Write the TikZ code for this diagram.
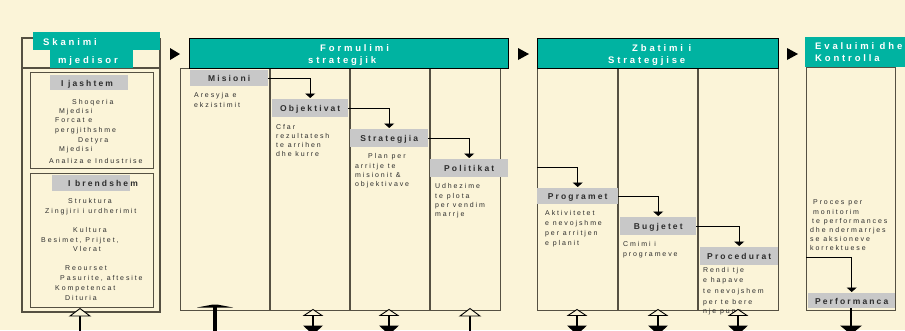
\documentclass[tikz,border=0pt]{standalone}
\usepackage{fontspec}
\setmainfont{Liberation Sans}
\newfontfamily\bodyfont[LetterSpace=27]{Liberation Sans}
\newfontfamily\lblfont[LetterSpace=25]{Liberation Sans}
\newfontfamily\hdrfont[LetterSpace=30]{Liberation Sans}
\usetikzlibrary{arrows.meta}
\definecolor{bgc}{RGB}{251,244,216}
\definecolor{tealc}{RGB}{0,179,161}
\definecolor{lblc}{RGB}{200,200,200}
\definecolor{linec}{RGB}{85,80,66}
\definecolor{txtc}{RGB}{45,45,45}
\begin{document}
\begin{tikzpicture}[x=1pt,y=-1pt,
  hdr/.style={fill=tealc, draw=black, line width=0.8pt, inner sep=0pt, anchor=north west},
  tealbox/.style={fill=tealc, inner sep=0pt, anchor=north west},
  hdrtxt/.style={text=white, font=\hdrfont\fontsize{9.5}{11}\selectfont\bfseries, inner sep=0pt, anchor=base west},
  colbox/.style={draw=linec, line width=1.3pt, inner sep=0pt, anchor=north west},
  lbl/.style={fill=lblc, inner sep=0pt, anchor=north west, text=txtc,
     font=\lblfont\fontsize{8.5}{10}\selectfont\bfseries, text height=7pt, text depth=0pt},
  txt/.style={text=txtc, font=\bodyfont\fontsize{7}{8}\selectfont, inner sep=0pt, anchor=base west},
  conn/.style={draw=black, line width=0.9pt, -{Triangle[width=10pt,length=4.5pt]}, shorten >=1pt},
  divl/.style={draw=linec, line width=1.3pt},
  dblarr/.pic={
    \draw[line width=2.4pt] (0,314) -- (0,327);
    \fill (-10,325.5) -- (10,325.5) -- (3,332) -- (-3,332) -- cycle;
    \draw[line width=0.9pt, fill=bgc, line join=miter] (-9,315.5) -- (0,309.5) -- (9,315.5) -- cycle;
  },
  hollowup/.pic={
    \draw[line width=1.6pt] (0,315) -- (0,332);
    \draw[line width=0.9pt, fill=bgc] (-10,316) -- (0,308.5) -- (10,316) -- cycle;
  }
]
\useasboundingbox (0,0) rectangle (905,330);
\clip (0,0) rectangle (905,330);
\fill[bgc] (0,0) rectangle (905,330);

% ---------- Skanimi mjedisor ----------
\draw[divl] (33,38) -- (22,38) -- (22,312) -- (160,312) -- (160,38);
\draw[divl] (22,68) -- (160,68);
\node[tealbox, minimum width=127pt, minimum height=18pt] (skh) at (33,32) {};
\node[tealbox, minimum width=83pt, minimum height=18pt] (mjh) at (50,50) {};
\node[hdrtxt] (skt) at (43,45) {Skanimi};
\node[hdrtxt] (mjt) at (58,63) {mjedisor};
\node[colbox, minimum width=123pt, minimum height=96pt] (jbox) at (30,72) {};
\node[colbox, minimum width=123pt, minimum height=134pt] (bbox) at (30,173) {};
\node[lbl, minimum width=78pt, minimum height=15pt] (jl) at (50,75) {\makebox[78pt][l]{\hspace{11pt}I jashtem}};
\node[lbl, minimum width=78pt, minimum height=16pt] (bl) at (52,175) {\makebox[78pt][l]{\hspace{16pt}I brendshem}};
\node[txt] (j1) at (72,104.5) {Shoqeria};
\node[txt] (j2) at (59,113.5) {Mjedisi};
\node[txt] (j3) at (55,122.5) {Forcat e};
\node[txt] (j4) at (55,132.5) {pergjithshme};
\node[txt] (j5) at (78,142.5) {Detyra};
\node[txt] (j6) at (59,151) {Mjedisi};
\node[txt] (j7) at (49,163) {Analiza e Industrise};
\node[txt] (b1) at (68,203.5) {Struktura};
\node[txt] (b2) at (45,213.5) {Zingjiri i urdherimit};
\node[txt] (b3) at (73,232.5) {Kultura};
\node[txt] (b4) at (41,242.5) {Besimet, Prijtet,};
\node[txt] (b5) at (73,251.5) {Vlerat};
\node[txt] (b6) at (65,270.5) {Reourset};
\node[txt] (b7) at (60,280.5) {Pasurite, aftesite};
\node[txt] (b8) at (55,290.5) {Kompetencat};
\node[txt] (b9) at (65,300.5) {Dituria};

% ---------- arrows between stages ----------
\fill (170,48) -- (180,54) -- (170,60) -- cycle;
\fill (518,48) -- (529,54) -- (518,60) -- cycle;
\fill (787,48) -- (798,54) -- (787,60) -- cycle;

% ---------- Formulimi strategjik ----------
\node[colbox, minimum width=320pt, minimum height=242pt] (fbox) at (180,68) {};
\draw[divl] (270,68) -- (270,310);
\draw[divl] (350,68) -- (350,310);
\draw[divl] (430,68) -- (430,310);
\node[hdr, minimum width=319pt, minimum height=30pt] (fh) at (189,38) {};
\node[hdrtxt] (fh1) at (320,51) {Formulimi};
\node[hdrtxt] (fh2) at (308,63) {strategjik};
\node[lbl, minimum width=78pt, minimum height=16pt] (mis) at (190,70) {Misioni};
\node[lbl, minimum width=76pt, minimum height=18pt] (obj) at (272,99) {Objektivat};
\node[lbl, minimum width=78pt, minimum height=18pt] (str) at (350,129) {Strategjia};
\node[lbl, minimum width=78pt, minimum height=18pt] (pol) at (430,159) {Politikat};
\draw[conn] (mis.east) -| (obj.north);
\draw[conn] (obj.east) -| (str.north);
\draw[conn] (str.east) -| (pol.north);
\node[txt] (m1) at (194,97.5) {Aresyja e};
\node[txt] (m2) at (194,107.5) {ekzistimit};
\node[txt] (o1) at (276,129.5) {Cfar};
\node[txt] (o2) at (276,138.5) {rezultatesh};
\node[txt] (o3) at (276,147.5) {te arrihen};
\node[txt] (o4) at (276,156.5) {dhe kurre};
\node[txt] (s1) at (368,158.5) {Plan per};
\node[txt] (s2) at (355,168.5) {arritje te};
\node[txt] (s3) at (355,177.5) {misionit \&};
\node[txt] (s4) at (355,186.5) {objektivave};
\node[txt] (p1) at (435,188.5) {Udhezime};
\node[txt] (p2) at (435,198.5) {te plota};
\node[txt] (p3) at (435,207.5) {per vendim};
\node[txt] (p4) at (435,216.5) {marrje};

% ---------- Zbatimi i Strategjise ----------
\node[colbox, minimum width=241pt, minimum height=242pt] (zbox) at (537,68) {};
\draw[divl] (618,68) -- (618,310);
\draw[divl] (698,68) -- (698,310);
\node[hdr, minimum width=241pt, minimum height=30pt] (zh) at (537,38) {};
\node[hdrtxt] (zh1) at (632,51) {Zbatimi i};
\node[hdrtxt] (zh2) at (608,63) {Strategjise};
\node[lbl, minimum width=81pt, minimum height=16pt] (prg) at (537,188) {Programet};
\node[lbl, minimum width=76pt, minimum height=18pt] (bug) at (620,217) {Bugjetet};
\node[lbl, minimum width=78pt, minimum height=18pt] (prc) at (700,247) {Procedurat};
\coordinate (zstart) at (537,167);
\draw[conn] (zstart) -| (prg.north);
\draw[conn] (prg.east) -| (bug.north);
\draw[conn] (bug.east) -| (prc.north);
\node[txt] (g1) at (545,215.5) {Aktivitetet};
\node[txt] (g2) at (545,225.5) {e nevojshme};
\node[txt] (g3) at (545,235.5) {per arritjen};
\node[txt] (g4) at (545,245.5) {e planit};
\node[txt] (u1) at (623,246.5) {Cmimi i};
\node[txt] (u2) at (623,256.5) {programeve};
\node[txt] (r1) at (703,272.5) {Rendi tje};
\node[txt] (r2) at (703,282.5) {e hapave};
\node[txt] (r3) at (703,293.5) {te nevojshem};
\node[txt] (r4) at (703,304.5) {per te bere};
\node[txt] (r5) at (703,313.5) {nje pune};

% ---------- Evaluimi dhe Kontrolla ----------
\node[colbox, minimum width=89pt, minimum height=243pt] (ebox) at (806,67) {};
\node[tealbox, minimum width=110pt, minimum height=30pt] (eh) at (805,37) {};
\node[hdrtxt] (eh1) at (815,49) {Evaluimi dhe};
\node[hdrtxt] (eh2) at (815,61) {Kontrolla};
\node[txt] (e1) at (813,204.5) {Proces per};
\node[txt] (e2) at (813,214.5) {monitorim};
\node[txt] (e3) at (812,223.5) {te performances};
\node[txt] (e4) at (810,232.5) {dhe ndermarrjes};
\node[txt] (e5) at (810,241.5) {se aksioneve};
\node[txt] (e6) at (810,250.5) {korrektuese};
\node[lbl, minimum width=87pt, minimum height=15pt] (prf) at (808,293) {Performanca};
\coordinate (estart) at (806,257);
\draw[conn] (estart) -| (prf.north);

% ---------- bottom arrows ----------
\pic at (80,0) {hollowup};
\fill (197,307.5) -- (233,307.5) -- (217,304.5) -- (213,304.5) -- cycle;
\draw[line width=3.5pt] (215,306) -- (215,334);
\pic at (313,0) {dblarr};
\pic at (389,0) {dblarr};
\pic at (470,0) {hollowup};
\pic at (577,0) {dblarr};
\pic at (658,0) {dblarr};
\pic at (738,0) {dblarr};
\draw[line width=2.5pt] (851,308) -- (851,334);
\fill (840,325.5) -- (862,325.5) -- (854,332) -- (848,332) -- cycle;
\end{tikzpicture}
\end{document}
